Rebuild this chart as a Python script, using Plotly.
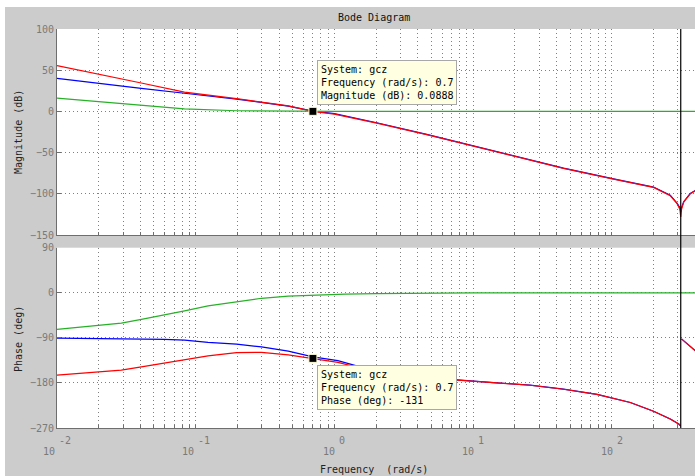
import math
import plotly.graph_objects as go

# ---------------- data ----------------
nyquist = 314.159  # rad/s (Ts = 0.01 s)

# Magnitude (dB)
mag_w = [0.01, 0.0197, 0.0405, 0.083, 0.197, 0.465, 0.7, 1.0, 2.02, 4.63, 10.05,
         20.1, 44.9, 103, 200, 264, 296, 310, 314.159, 318, 330, 368, 401]
blue_mag = [40.2, 34.0, 28.0, 22.0, 15.0, 6.5, 0.4, -2.8, -13.8, -27.8, -41.8,
            -53.8, -68.8, -81.8, -91.8, -101.8, -111.6, -117.0, -122.0, -117.0, -109.6, -99.6, -95.8]
red_mag = [55.5, 45.5, 34.5, 23.3, 15.6, 6.7, 0.0888, -3.2, -14.2, -28.2, -42.2,
           -54.2, -69.2, -82.2, -92.2, -102.2, -112.0, -119.0, -128.0, -119.0, -110.0, -100.0, -96.2]
green_mag_w = [0.01, 0.0197, 0.0405, 0.083, 0.197, 0.465, 1.0, 10.0, 401]
green_mag = [16.0, 12.0, 7.2, 3.0, 0.8, 0.2, 0.0, 0.0, 0.0]

# Phase (deg)
ph_w = [0.01, 0.0197, 0.0291, 0.0406, 0.0597, 0.0832, 0.1227, 0.197, 0.298, 0.465,
        0.7, 1.06, 1.5, 2.0, 4.0, 8.5, 14.8, 25.8, 44.9, 78.2, 136, 200, 264, 304,
        314.159, None, 318, 360, 401]
blue_ph = [-90.5, -91.0, -91.3, -91.6, -93.0, -94.6, -99.0, -102.6, -108.0, -116.5,
           -128.0, -135.5, -147.0, -157.0, -168.0, -175.5, -179.8, -184.5, -192.5, -203.0,
           -219.0, -236.6, -252.0, -262.0, -266.0, None, -92.0, -104.0, -116.0]
red_ph = [-164.6, -159.0, -154.6, -148.0, -140.0, -132.6, -126.0, -119.5, -119.0, -124.0,
          -131.0, -139.0, -149.5, -158.5, -169.0, -176.0, -180.0, -184.6, -192.6, -203.0,
          -219.0, -236.6, -252.0, -262.0, -266.0, None, -92.0, -104.0, -116.0]
green_ph_w = [0.01, 0.0197, 0.0291, 0.0406, 0.0597, 0.0832, 0.1227, 0.197, 0.298, 0.465,
              0.809, 1.2, 2.0, 3.2, 10, 100, 401]
green_ph = [-73.0, -66.0, -60.5, -53.0, -44.6, -36.0, -26.0, -18.0, -11.0, -6.6,
            -3.5, -2.5, -1.5, -0.8, -0.3, -0.1, 0.0]

tip_w = 0.7
tip_mag = 0.0888
tip_ph = -131

mag_ticks = [-150, -100, -50, 0, 50, 100]
ph_ticks = [-270, -180, -90, 0, 90]
decades = [0.01, 0.1, 1, 10, 100]
decade_exps = ["-2", "-1", "0", "1", "2"]

# ---------------- styling ----------------
W, H = 695, 476
ML, MR, MT, MB = 57, 0, 29, 48
PW, PH = W - ML - MR, H - MT - MB
FONT = "DejaVu Sans Mono"
GRAY_BG = "#cccccc"
GRID = "#808080"
AX = "#6e6e6e"
TICKC = "#7a7a7a"
RED, BLUE, GREEN = "#ff0000", "#0000ff", "#28b028"


def py(px):  # pixel from top -> paper y
    return (H - MB - px) / PH


def pxx(px):  # pixel from left -> paper x
    return (px - ML) / PW


top_dom = [py(235), 1.0]
bot_dom = [0.0, py(247.7)]

xt = []
for d in decades:
    for m in range(1, 10):
        v = d * m
        if v < 400:
            xt.append(v)

fig = go.Figure()

# magnitude traces
fig.add_trace(go.Scatter(x=mag_w, y=blue_mag, mode="lines", line=dict(color=BLUE, width=1.2),
                         xaxis="x", yaxis="y", showlegend=False, hoverinfo="skip"))
fig.add_trace(go.Scatter(x=mag_w, y=red_mag, mode="lines", line=dict(color=RED, width=1.2),
                         xaxis="x", yaxis="y", showlegend=False, hoverinfo="skip"))
fig.add_trace(go.Scatter(x=green_mag_w, y=green_mag, mode="lines", line=dict(color=GREEN, width=1.2),
                         xaxis="x", yaxis="y", showlegend=False, hoverinfo="skip"))
# phase traces
fig.add_trace(go.Scatter(x=ph_w, y=blue_ph, mode="lines", line=dict(color=BLUE, width=1.2),
                         xaxis="x2", yaxis="y2", showlegend=False, hoverinfo="skip", connectgaps=False))
fig.add_trace(go.Scatter(x=ph_w, y=red_ph, mode="lines", line=dict(color=RED, width=1.2),
                         xaxis="x2", yaxis="y2", showlegend=False, hoverinfo="skip", connectgaps=False))
fig.add_trace(go.Scatter(x=green_ph_w, y=green_ph, mode="lines", line=dict(color=GREEN, width=1.2),
                         xaxis="x2", yaxis="y2", showlegend=False, hoverinfo="skip"))
# data tip markers
fig.add_trace(go.Scatter(x=[tip_w], y=[tip_mag], mode="markers",
                         marker=dict(symbol="square", size=8, color="black",
                                     line=dict(color="#ffffd8", width=1)),
                         xaxis="x", yaxis="y", showlegend=False, hoverinfo="skip"))
fig.add_trace(go.Scatter(x=[tip_w], y=[tip_ph], mode="markers",
                         marker=dict(symbol="square", size=8, color="black",
                                     line=dict(color="#ffffd8", width=1)),
                         xaxis="x2", yaxis="y2", showlegend=False, hoverinfo="skip"))

xcommon = dict(type="log", range=[-2, 2.6], tickmode="array", tickvals=xt,
               ticks="inside", ticklen=3, tickcolor=AX, tickwidth=1,
               showgrid=True, gridcolor=GRID, griddash="1px,3px", gridwidth=1,
               showline=True, linecolor=AX, linewidth=1, zeroline=False,
               showticklabels=False)
ycommon = dict(ticks="inside", ticklen=4, tickcolor=AX,
               showgrid=True, gridcolor=GRID, griddash="1px,3px", gridwidth=1,
               showline=True, linecolor=AX, linewidth=1, zeroline=False,
               tickfont=dict(family=FONT, size=10, color=TICKC))

fig.update_layout(
    width=W, height=H,
    margin=dict(l=ML, r=MR, t=MT, b=MB, pad=0),
    paper_bgcolor=GRAY_BG, plot_bgcolor="white",
    font=dict(family=FONT, size=10, color="#222222"),
    xaxis=dict(**xcommon, anchor="y", domain=[0, 1]),
    xaxis2=dict(**xcommon, anchor="y2", domain=[0, 1]),
    yaxis=dict(**ycommon, anchor="x", domain=top_dom, range=[-150, 100], tickmode="array",
               tickvals=mag_ticks),
    yaxis2=dict(**ycommon, anchor="x2", domain=bot_dom, range=[-270, 90], tickmode="array",
                tickvals=ph_ticks),
)

# white strips at top and left of the figure (outside the gray frame)
fig.add_shape(type="rect", xref="paper", yref="paper", x0=pxx(0), x1=pxx(W), y0=py(7), y1=py(0),
              fillcolor="white", line=dict(width=0), layer="below")
fig.add_shape(type="rect", xref="paper", yref="paper", x0=pxx(0), x1=pxx(5), y0=py(H), y1=py(0),
              fillcolor="white", line=dict(width=0), layer="below")

# Nyquist frequency line
fig.add_shape(type="line", xref="x", yref="paper", x0=nyquist, x1=nyquist,
              y0=0, y1=1, line=dict(color="black", width=1.2))

# decade tick labels (MATLAB style: "10" with a raised full-size exponent)
for d, e in zip(decades, decade_exps):
    shift = 6 - 3 * len(e)
    fig.add_annotation(text="10", xref="x2", yref="paper", x=math.log10(d), y=py(451),
                       xanchor="right", yanchor="middle", xshift=shift, showarrow=False,
                       font=dict(family=FONT, size=10, color=TICKC))
    fig.add_annotation(text=e, xref="x2", yref="paper", x=math.log10(d), y=py(440),
                       xanchor="left", yanchor="middle", xshift=shift, showarrow=False,
                       font=dict(family=FONT, size=10, color=TICKC))

# titles
fig.add_annotation(text="Bode Diagram", xref="paper", yref="paper", x=pxx(374), y=py(17),
                   showarrow=False, font=dict(family=FONT, size=10, color="#111111"),
                   xanchor="center", yanchor="middle")
fig.add_annotation(text="Magnitude (dB)", xref="paper", yref="paper", x=pxx(18), y=py(132),
                   textangle=-90, showarrow=False, font=dict(family=FONT, size=10, color="#222222"),
                   xanchor="center", yanchor="middle")
fig.add_annotation(text="Phase (deg)", xref="paper", yref="paper", x=pxx(18), y=py(339),
                   textangle=-90, showarrow=False, font=dict(family=FONT, size=10, color="#222222"),
                   xanchor="center", yanchor="middle")
fig.add_annotation(text="Frequency\u00a0 (rad/s)", xref="paper", yref="paper", x=pxx(374), y=py(470),
                   showarrow=False, font=dict(family=FONT, size=10, color="#222222"),
                   xanchor="center", yanchor="middle")

# data tips
tipstyle = dict(showarrow=False, align="left", xanchor="left", bgcolor="#ffffe1",
                bordercolor="#a8a8a8", borderwidth=1, borderpad=3,
                font=dict(family=FONT, size=10, color="black"))
fig.add_annotation(text="System: gcz<br>Frequency (rad/s): %s<br>Magnitude (dB): %s" % (tip_w, tip_mag),
                   xref="x", yref="y", x=math.log10(tip_w), y=tip_mag, yanchor="bottom",
                   xshift=4, yshift=6, **tipstyle)
fig.add_annotation(text="System: gcz<br>Frequency (rad/s): %s<br>Phase (deg): %s" % (tip_w, tip_ph),
                   xref="x2", yref="y2", x=math.log10(tip_w), y=tip_ph, yanchor="top",
                   xshift=4, yshift=-7, **tipstyle)

fig.write_html("out.html")
